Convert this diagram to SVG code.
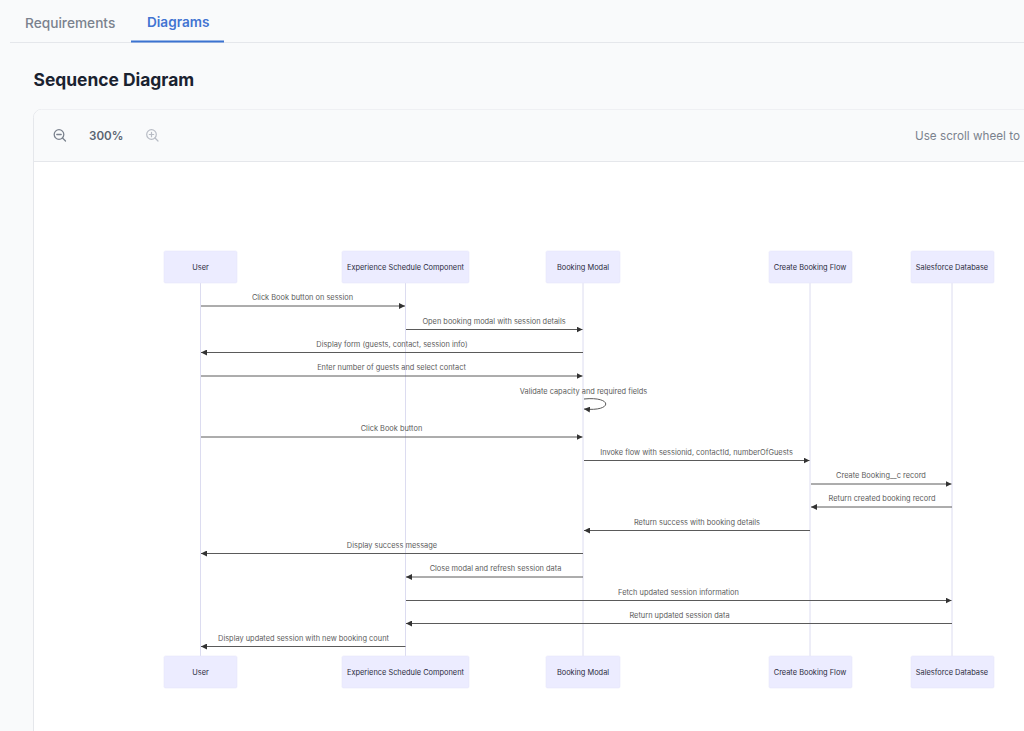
<svg xmlns="http://www.w3.org/2000/svg" width="1024" height="731" viewBox="0 0 1024 731">
<style>
text{font-family:Inter,"Liberation Sans",sans-serif}
.a{fill:#ececff;stroke:#e8e8fa;stroke-width:.6}
.n{font-size:7.42px;fill:#2b2b3d;text-anchor:middle}
.m{font-size:7.42px;fill:#5c5c5c;text-anchor:middle}
.l{stroke:#dcdcf0;stroke-width:1}
.c{stroke:#5a5a5a;stroke-width:1;fill:none;marker-end:url(#ah)}
</style>
<defs><marker id="ah" markerUnits="userSpaceOnUse" markerWidth="7" markerHeight="6" refX="6" refY="3" orient="auto"><path d="M0 0L6 3L0 6Z" fill="#333"/></marker></defs>
<rect width="1024" height="731" fill="#f9fafb"/>
<g id="tabs">
<rect x="10" y="42" width="1014" height="1" fill="#e5e7eb"/>
<rect x="131" y="40.500" width="93" height="2" fill="#3b73d1"/>
<text x="25" y="28" font-size="13.700" font-weight="500" fill="#7b828e">Requirements</text>
<text x="147" y="27" font-size="13.600" font-weight="600" fill="#4274d2">Diagrams</text>
</g>
<text id="title" x="33.500" y="86" font-size="17.400" font-weight="700" fill="#1a2230">Sequence Diagram</text>
<g id="card">
<rect x="33.500" y="109.500" width="1020" height="660" rx="8" fill="#fff" stroke="#e5e7eb"/>
<path d="M34 161V117.500a8 8 0 0 1 8-8H1024V161Z" fill="#f9fafb"/>
<rect x="34" y="161" width="990" height="1" fill="#e5e7eb"/>
<g fill="none" stroke-linecap="round">
<g stroke="#7b828e" stroke-width="1.300"><circle cx="59" cy="134.500" r="4.800"/><path d="M62.500 138L65.500 141M56.800 134.500H61.200"/></g>
<g stroke="#b8bcc5" stroke-width="1.200"><circle cx="151.500" cy="134.500" r="4.800"/><path d="M155 138L158 141M149.300 134.500H153.700M151.500 132.300V136.700"/></g>
</g>
<text x="89" y="139.500" font-size="11.600" font-weight="600" fill="#5b6472">300%</text>
<text x="915" y="140" font-size="11.700" fill="#7b828e">Use scroll wheel to</text>
</g>
<g id="connectors">
<path class="l" d="M200.500 283V656M405.500 283V656M583 283V656M810 283V656M952 283V656"/>
<path class="c" d="M201 306H405"/>
<path class="c" d="M406 329.500H582.500"/>
<path class="c" d="M583 352.500H201"/>
<path class="c" d="M201 376H582.500"/>
<path class="c" d="M584 399C613 396 613 412 584 409"/>
<path class="c" d="M201 437H582.500"/>
<path class="c" d="M584 460.500H809.500"/>
<path class="c" d="M811 484H951.500"/>
<path class="c" d="M952 507H811"/>
<path class="c" d="M810 530.500H584"/>
<path class="c" d="M583 553.500H201"/>
<path class="c" d="M583 577H406"/>
<path class="c" d="M406 600.500H951.500"/>
<path class="c" d="M952 623.500H406"/>
<path class="c" d="M405.500 646.500H201"/>
<g id="labels">
<text class="m" x="302.500" y="300">Click Book button on session</text>
<text class="m" x="494" y="323.500">Open booking modal with session details</text>
<text class="m" x="392" y="346.500">Display form (guests, contact, session info)</text>
<text class="m" x="391.500" y="370">Enter number of guests and select contact</text>
<text class="m" x="583.500" y="393.500">Validate capacity and required fields</text>
<text class="m" x="391.500" y="431">Click Book button</text>
<text class="m" x="696.500" y="454.500">Invoke flow with sessionid, contactId, numberOfGuests</text>
<text class="m" x="881" y="478">Create Booking__c record</text>
<text class="m" x="882" y="501">Return created booking record</text>
<text class="m" x="697" y="524.500">Return success with booking details</text>
<text class="m" x="392" y="547.500">Display success message</text>
<text class="m" x="495.500" y="571">Close modal and refresh session data</text>
<text class="m" x="678.500" y="594.500">Fetch updated session information</text>
<text class="m" x="679.500" y="617.500">Return updated session data</text>
<text class="m" x="303.500" y="640.500">Display updated session with new booking count</text>
</g>
</g>
<g id="user"><rect class="a" x="164" y="251" width="73" height="32" rx="1.500"/><text class="n" x="200.500" y="270">User</text></g>
<g id="experience-schedule"><rect class="a" x="342" y="251" width="127" height="32" rx="1.500"/><text class="n" x="405.500" y="270">Experience Schedule Component</text></g>
<g id="booking-modal"><rect class="a" x="546" y="251" width="74" height="32" rx="1.500"/><text class="n" x="583" y="270">Booking Modal</text></g>
<g id="create-booking-flow"><rect class="a" x="769" y="251" width="83" height="32" rx="1.500"/><text class="n" x="810" y="270">Create Booking Flow</text></g>
<g id="salesforce-database"><rect class="a" x="911" y="251" width="83" height="32" rx="1.500"/><text class="n" x="952" y="270">Salesforce Database</text></g>
<g id="user-bottom"><rect class="a" x="164" y="656" width="73" height="32" rx="1.500"/><text class="n" x="200.500" y="675">User</text></g>
<g id="experience-schedule-bottom"><rect class="a" x="342" y="656" width="127" height="32" rx="1.500"/><text class="n" x="405.500" y="675">Experience Schedule Component</text></g>
<g id="booking-modal-bottom"><rect class="a" x="546" y="656" width="74" height="32" rx="1.500"/><text class="n" x="583" y="675">Booking Modal</text></g>
<g id="create-booking-flow-bottom"><rect class="a" x="769" y="656" width="83" height="32" rx="1.500"/><text class="n" x="810" y="675">Create Booking Flow</text></g>
<g id="salesforce-database-bottom"><rect class="a" x="911" y="656" width="83" height="32" rx="1.500"/><text class="n" x="952" y="675">Salesforce Database</text></g>
</svg>
